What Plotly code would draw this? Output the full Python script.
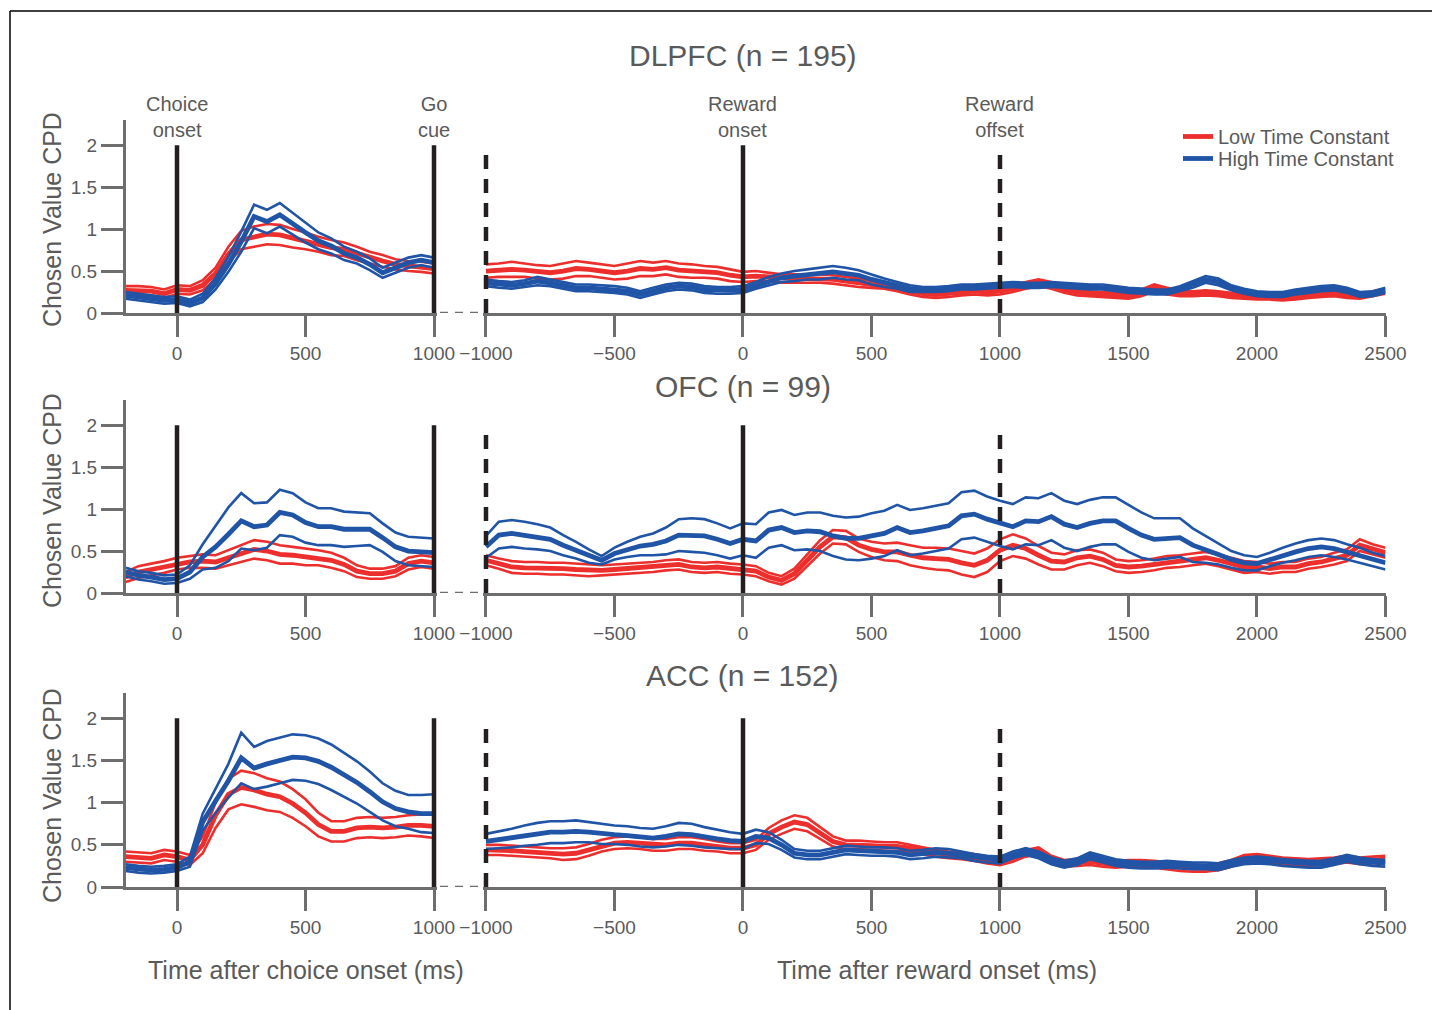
import plotly.graph_objects as go

# ---------------- data ----------------
t_choice = list(range(-200, 1001, 50))     # ms after choice onset
t_reward = list(range(-1000, 2501, 50))    # ms after reward onset

regions = ["DLPFC", "OFC", "ACC"]
region_n = [195, 99, 152]
series_names = ["Low Time Constant", "High Time Constant"]

choice_events = [0, 1000]
choice_event_labels = ["Choice<br>onset", "Go<br>cue"]
reward_events_solid = [0]
reward_events_dashed = [-1000, 1000]
reward_event_labels = ["Reward<br>onset", "Reward<br>offset"]
reward_label_times = [0, 1000]

y_ticks = [0, 0.5, 1, 1.5, 2]
y_tick_text = ["0", "0.5", "1", "1.5", "2"]
choice_ticks = [0, 500, 1000]
choice_tick_text = ["0", "500", "1000"]
reward_ticks = [-1000, -500, 0, 500, 1000, 1500, 2000, 2500]
reward_tick_text = ["\u22121000", "\u2212500", "0", "500", "1000", "1500", "2000", "2500"]

# DLPFC, choice aligned
dlpfc_choice_low_mean = [0.27,0.27,0.26,0.23,0.28,0.27,0.33,0.47,0.70,0.87,0.91,0.94,0.93,0.89,0.86,0.82,0.78,0.76,0.71,0.66,0.62,0.58,0.56,0.55,0.53]
dlpfc_choice_low_sem = [0.05,0.05,0.05,0.05,0.05,0.05,0.06,0.07,0.09,0.11,0.12,0.12,0.12,0.11,0.10,0.09,0.09,0.08,0.08,0.07,0.07,0.06,0.06,0.06,0.06]
dlpfc_choice_high_mean = [0.21,0.19,0.17,0.15,0.16,0.12,0.18,0.35,0.58,0.85,1.15,1.09,1.17,1.06,0.96,0.86,0.80,0.71,0.66,0.58,0.48,0.54,0.60,0.63,0.60]
dlpfc_choice_high_sem = [0.04,0.04,0.04,0.04,0.04,0.04,0.05,0.07,0.09,0.12,0.14,0.14,0.14,0.13,0.12,0.10,0.09,0.08,0.07,0.07,0.06,0.06,0.06,0.06,0.06]

# DLPFC, reward aligned
dlpfc_reward_low_mean = [0.50,0.51,0.52,0.51,0.49,0.48,0.50,0.53,0.52,0.50,0.48,0.50,0.53,0.52,0.54,0.51,0.50,0.49,0.48,0.45,0.43,
                         0.44,0.43,0.41,0.41,0.41,0.41,0.40,0.38,0.36,0.34,0.33,0.30,0.26,0.23,0.22,0.23,0.25,0.26,0.25,0.26,
                         0.29,0.33,0.36,0.33,0.28,0.25,0.23,0.22,0.21,0.20,0.24,0.30,0.26,0.23,0.23,0.24,0.23,0.21,0.20,0.19,
                         0.19,0.18,0.19,0.21,0.22,0.23,0.21,0.20,0.23,0.26]
dlpfc_reward_low_sem = [0.08,0.08,0.09,0.08,0.08,0.08,0.09,0.09,0.08,0.08,0.08,0.09,0.09,0.08,0.08,0.08,0.08,0.07,0.07,0.07,0.06,
                        0.06,0.05,0.05,0.05,0.05,0.05,0.05,0.05,0.05,0.04,0.04,0.04,0.04,0.04,0.04,0.04,0.04,0.04,0.04,0.04,
                        0.04,0.04,0.04,0.04,0.04,0.04,0.03,0.03,0.03,0.03,0.04,0.04,0.04,0.03,0.03,0.03,0.03,0.03,0.03,0.03,
                        0.03,0.03,0.03,0.03,0.03,0.03,0.03,0.03,0.03,0.03]
dlpfc_reward_high_mean = [0.36,0.34,0.33,0.35,0.38,0.36,0.33,0.30,0.30,0.29,0.28,0.26,0.22,0.26,0.30,0.32,0.31,0.28,0.27,0.27,0.28,
                          0.33,0.38,0.42,0.44,0.46,0.47,0.49,0.47,0.45,0.40,0.36,0.33,0.29,0.28,0.28,0.29,0.31,0.31,0.32,0.33,
                          0.34,0.33,0.33,0.34,0.33,0.32,0.31,0.31,0.29,0.27,0.26,0.25,0.25,0.29,0.34,0.40,0.37,0.30,0.26,0.23,
                          0.22,0.22,0.25,0.27,0.29,0.30,0.27,0.22,0.23,0.27]
dlpfc_reward_high_sem = [0.04,0.04,0.04,0.04,0.05,0.04,0.04,0.04,0.04,0.04,0.04,0.04,0.04,0.04,0.04,0.04,0.04,0.04,0.04,0.04,0.04,
                         0.04,0.05,0.05,0.06,0.06,0.07,0.07,0.07,0.06,0.06,0.05,0.04,0.04,0.03,0.03,0.03,0.03,0.03,0.03,0.03,
                         0.03,0.03,0.03,0.03,0.03,0.03,0.03,0.03,0.03,0.03,0.03,0.03,0.03,0.03,0.04,0.04,0.04,0.03,0.03,0.03,
                         0.03,0.03,0.03,0.03,0.03,0.03,0.03,0.03,0.03,0.03]

# OFC, choice aligned
ofc_choice_low_mean = [0.19,0.25,0.28,0.31,0.35,0.37,0.38,0.37,0.42,0.47,0.52,0.50,0.46,0.45,0.43,0.42,0.39,0.34,0.26,0.23,0.23,0.26,0.35,0.38,0.36]
ofc_choice_low_sem = [0.06,0.07,0.07,0.07,0.07,0.07,0.08,0.08,0.09,0.10,0.11,0.11,0.11,0.10,0.10,0.09,0.09,0.08,0.07,0.06,0.06,0.06,0.07,0.07,0.07]
ofc_choice_high_mean = [0.25,0.21,0.19,0.16,0.17,0.25,0.43,0.55,0.70,0.86,0.79,0.81,0.96,0.93,0.84,0.79,0.79,0.76,0.76,0.76,0.66,0.55,0.50,0.49,0.48]
ofc_choice_high_sem = [0.05,0.05,0.05,0.05,0.05,0.08,0.15,0.25,0.32,0.33,0.28,0.27,0.27,0.26,0.24,0.22,0.22,0.21,0.20,0.19,0.17,0.17,0.17,0.17,0.17]

# OFC, reward aligned
ofc_reward_low_mean = [0.39,0.35,0.31,0.30,0.30,0.29,0.29,0.28,0.27,0.27,0.28,0.29,0.30,0.31,0.33,0.34,0.31,0.30,0.31,0.29,0.28,
                       0.26,0.19,0.15,0.23,0.39,0.55,0.67,0.66,0.57,0.52,0.49,0.49,0.45,0.42,0.41,0.40,0.36,0.33,0.39,0.51,
                       0.57,0.53,0.45,0.38,0.37,0.42,0.44,0.40,0.33,0.31,0.32,0.34,0.37,0.38,0.40,0.42,0.39,0.35,0.31,0.31,
                       0.29,0.31,0.31,0.35,0.37,0.41,0.45,0.57,0.52,0.48]
ofc_reward_low_sem = [0.06,0.06,0.07,0.07,0.07,0.07,0.07,0.07,0.07,0.06,0.06,0.06,0.06,0.06,0.06,0.06,0.06,0.06,0.06,0.06,0.06,
                      0.06,0.05,0.05,0.06,0.07,0.08,0.08,0.08,0.08,0.09,0.10,0.11,0.12,0.12,0.13,0.13,0.14,0.14,0.14,0.13,
                      0.13,0.12,0.11,0.10,0.09,0.09,0.08,0.08,0.07,0.07,0.07,0.07,0.07,0.07,0.07,0.07,0.07,0.07,0.07,0.06,
                      0.06,0.06,0.06,0.06,0.06,0.07,0.07,0.07,0.06,0.06]
ofc_reward_high_mean = [0.55,0.69,0.71,0.69,0.67,0.64,0.57,0.51,0.44,0.39,0.47,0.52,0.56,0.58,0.62,0.69,0.69,0.68,0.64,0.59,0.64,
                        0.62,0.75,0.78,0.72,0.74,0.73,0.68,0.65,0.65,0.68,0.71,0.78,0.72,0.74,0.77,0.80,0.92,0.94,0.88,0.83,
                        0.79,0.86,0.85,0.91,0.82,0.78,0.83,0.86,0.86,0.77,0.69,0.64,0.65,0.66,0.57,0.52,0.46,0.40,0.36,0.35,
                        0.40,0.45,0.49,0.53,0.55,0.53,0.49,0.45,0.40,0.36]
ofc_reward_high_sem = [0.13,0.16,0.16,0.16,0.15,0.14,0.12,0.10,0.08,0.05,0.07,0.09,0.11,0.13,0.16,0.19,0.20,0.20,0.19,0.18,0.19,
                       0.20,0.21,0.21,0.21,0.22,0.23,0.24,0.25,0.26,0.27,0.27,0.27,0.27,0.27,0.27,0.27,0.28,0.28,0.27,0.27,
                       0.27,0.28,0.28,0.28,0.28,0.28,0.28,0.28,0.28,0.28,0.27,0.25,0.24,0.23,0.20,0.16,0.12,0.10,0.09,0.08,
                       0.08,0.09,0.10,0.10,0.10,0.10,0.09,0.09,0.08,0.08]

# ACC, choice aligned
acc_choice_low_mean = [0.36,0.35,0.34,0.38,0.36,0.32,0.50,0.85,1.10,1.18,1.15,1.10,1.07,0.99,0.88,0.74,0.66,0.66,0.70,0.71,0.70,0.71,0.73,0.73,0.72]
acc_choice_low_sem = [0.06,0.06,0.06,0.06,0.06,0.06,0.10,0.15,0.18,0.20,0.20,0.19,0.18,0.17,0.16,0.14,0.12,0.12,0.12,0.12,0.12,0.12,0.12,0.13,0.14]
acc_choice_high_mean = [0.23,0.21,0.20,0.21,0.23,0.30,0.77,1.02,1.26,1.53,1.41,1.46,1.50,1.54,1.53,1.49,1.42,1.33,1.24,1.13,1.01,0.93,0.89,0.87,0.87]
acc_choice_high_sem = [0.04,0.04,0.04,0.04,0.04,0.06,0.10,0.14,0.20,0.30,0.25,0.27,0.27,0.27,0.27,0.27,0.27,0.26,0.25,0.24,0.22,0.21,0.20,0.22,0.23]

# ACC, reward aligned
acc_reward_low_mean = [0.44,0.44,0.43,0.42,0.41,0.40,0.39,0.40,0.44,0.49,0.52,0.53,0.52,0.50,0.50,0.52,0.52,0.50,0.48,0.46,0.46,
                       0.50,0.63,0.71,0.77,0.74,0.64,0.54,0.50,0.50,0.49,0.48,0.48,0.46,0.43,0.40,0.38,0.37,0.35,0.32,0.30,
                       0.34,0.40,0.43,0.33,0.28,0.29,0.30,0.28,0.27,0.28,0.28,0.27,0.25,0.23,0.22,0.22,0.24,0.28,0.34,0.35,
                       0.33,0.31,0.30,0.29,0.30,0.31,0.33,0.31,0.32,0.33]
acc_reward_low_sem = [0.06,0.06,0.06,0.06,0.06,0.06,0.07,0.07,0.07,0.07,0.07,0.07,0.07,0.07,0.07,0.07,0.07,0.07,0.06,0.06,0.06,
                      0.06,0.07,0.08,0.08,0.08,0.07,0.06,0.05,0.05,0.05,0.05,0.05,0.04,0.04,0.04,0.04,0.04,0.04,0.04,0.04,
                      0.04,0.04,0.04,0.04,0.04,0.04,0.04,0.04,0.04,0.04,0.04,0.04,0.04,0.04,0.04,0.04,0.04,0.04,0.04,0.04,
                      0.04,0.04,0.04,0.04,0.04,0.04,0.04,0.04,0.04,0.04]
acc_reward_high_mean = [0.54,0.56,0.58,0.61,0.63,0.65,0.65,0.66,0.65,0.63,0.62,0.61,0.59,0.58,0.60,0.63,0.62,0.59,0.57,0.55,0.54,
                        0.60,0.58,0.50,0.40,0.38,0.38,0.41,0.44,0.43,0.42,0.42,0.41,0.38,0.39,0.41,0.40,0.38,0.35,0.33,0.32,
                        0.38,0.42,0.38,0.31,0.27,0.30,0.37,0.33,0.29,0.27,0.26,0.26,0.27,0.26,0.25,0.25,0.24,0.28,0.31,0.32,
                        0.31,0.29,0.28,0.27,0.27,0.30,0.34,0.31,0.29,0.28]
acc_reward_high_sem = [0.09,0.10,0.11,0.12,0.13,0.13,0.13,0.13,0.12,0.12,0.11,0.11,0.11,0.11,0.12,0.13,0.13,0.12,0.11,0.10,0.09,
                       0.08,0.07,0.06,0.05,0.05,0.05,0.05,0.05,0.05,0.05,0.05,0.05,0.05,0.05,0.05,0.05,0.04,0.04,0.04,0.04,
                       0.04,0.04,0.04,0.04,0.04,0.04,0.04,0.04,0.04,0.04,0.04,0.04,0.04,0.04,0.04,0.04,0.04,0.04,0.04,0.04,
                       0.04,0.04,0.04,0.04,0.04,0.04,0.04,0.04,0.04,0.04]

panels = [
    [(dlpfc_choice_low_mean, dlpfc_choice_low_sem, dlpfc_choice_high_mean, dlpfc_choice_high_sem),
     (dlpfc_reward_low_mean, dlpfc_reward_low_sem, dlpfc_reward_high_mean, dlpfc_reward_high_sem)],
    [(ofc_choice_low_mean, ofc_choice_low_sem, ofc_choice_high_mean, ofc_choice_high_sem),
     (ofc_reward_low_mean, ofc_reward_low_sem, ofc_reward_high_mean, ofc_reward_high_sem)],
    [(acc_choice_low_mean, acc_choice_low_sem, acc_choice_high_mean, acc_choice_high_sem),
     (acc_reward_low_mean, acc_reward_low_sem, acc_reward_high_mean, acc_reward_high_sem)],
]

# ---------------- layout helpers ----------------
W, H = 1432, 1010
def px(x):
    return x / W
def py(y):
    return 1 - y / H

RED = "#EC2F2D"
BLUE = "#1F54A6"
GRAY = "#6E6E6E"
TXT = "#5A5A5A"
BLACK = "#231F20"
FONT = "Liberation Sans, Arial, sans-serif"

PX_PER_MS = 0.257
row_px = [(120, 313), (400, 593), (693, 887)]   # (top, bottom) pixel rows of plot areas
# ranges padded slightly so event lines at the panel edges are not clipped
col_range = [[-200, 1012], [-1012, 2500]]
col_px = [(177 + col_range[0][0] * PX_PER_MS, 177 + col_range[0][1] * PX_PER_MS),
          (743 + col_range[1][0] * PX_PER_MS, 743 + col_range[1][1] * PX_PER_MS)]
col_ticks = [choice_ticks, reward_ticks]
col_tick_text = [choice_tick_text, reward_tick_text]
col_t = [t_choice, t_reward]

fig = go.Figure()
shapes = []
annotations = []
layout_axes = {}

for r in range(3):
    for c in range(2):
        k = r * 2 + c + 1
        xa = "x" if k == 1 else f"x{k}"
        ya = "y" if k == 1 else f"y{k}"
        low_m, low_s, high_m, high_s = panels[r][c]
        t = col_t[c]
        assert len(low_m) == len(t) == len(low_s) == len(high_m) == len(high_s)
        for (m, s, color, name, leg) in [(low_m, low_s, RED, series_names[0], "legend"),
                                         (high_m, high_s, BLUE, series_names[1], "legend2")]:
            up = [a + b for a, b in zip(m, s)]
            lo = [a - b for a, b in zip(m, s)]
            for band in (up, lo):
                fig.add_trace(go.Scatter(x=t, y=band, mode="lines", xaxis=xa, yaxis=ya,
                                         line=dict(color=color, width=2.6),
                                         showlegend=False, hoverinfo="skip"))
            fig.add_trace(go.Scatter(x=t, y=m, mode="lines", xaxis=xa, yaxis=ya,
                                     line=dict(color=color, width=4.8),
                                     name=name, legendgroup=name, legend=leg,
                                     showlegend=(r == 0 and c == 1)))

        top, bot = row_px[r]
        left, right = col_px[c]
        xkey = "xaxis" if k == 1 else f"xaxis{k}"
        ykey = "yaxis" if k == 1 else f"yaxis{k}"
        layout_axes[xkey] = dict(
            domain=[px(left), px(right)], range=col_range[c], anchor=ya, automargin=False,
            showline=True, linecolor=GRAY, linewidth=2.5, mirror=False,
            ticks="outside", ticklen=21, tickwidth=2.5, tickcolor=GRAY,
            tickvals=col_ticks[c], ticktext=col_tick_text[c],
            tickfont=dict(size=19, color=TXT, family=FONT),
            showgrid=False, zeroline=False, fixedrange=True)
        layout_axes[ykey] = dict(
            domain=[py(bot), py(top)], range=[0, 2.3], anchor=xa, automargin=False,
            showline=(c == 0), linecolor=GRAY, linewidth=2.5,
            ticks="outside" if c == 0 else "", ticklen=22, tickwidth=2.5, tickcolor=GRAY,
            tickvals=y_ticks, ticktext=y_tick_text, showticklabels=(c == 0),
            tickfont=dict(size=19, color=TXT, family=FONT),
            showgrid=False, zeroline=False, fixedrange=True)

        # event lines
        if c == 0:
            for ev in choice_events:
                shapes.append(dict(type="line", xref=xa, yref=ya, x0=ev, x1=ev, y0=0, y1=2.0,
                                   line=dict(color=BLACK, width=4.5)))
            # dashed link between the two panels' axes
            shapes.append(dict(type="line", xref="paper", yref=ya, x0=px(440), x1=px(483),
                               y0=0, y1=0, line=dict(color=GRAY, width=2.5, dash="8px,7px")))
        else:
            for ev in reward_events_solid:
                shapes.append(dict(type="line", xref=xa, yref=ya, x0=ev, x1=ev, y0=0, y1=2.0,
                                   line=dict(color=BLACK, width=4.5)))
            for ev in reward_events_dashed:
                shapes.append(dict(type="line", xref=xa, yref=ya, x0=ev, x1=ev, y0=0, y1=1.97,
                                   line=dict(color=BLACK, width=4.5, dash="14px,10px")))

    # region title
    title_y = [55, 386, 675][r]
    annotations.append(dict(text=f"{regions[r]} (n = {region_n[r]})", xref="paper", yref="paper",
                            x=px(743), y=py(title_y), showarrow=False,
                            font=dict(size=30, color=TXT, family=FONT), xanchor="center", yanchor="middle"))
    # y-axis title
    ytitle_y = [220, 501, 796][r]
    annotations.append(dict(text="Chosen Value CPD", xref="paper", yref="paper",
                            x=px(52), y=py(ytitle_y), showarrow=False, textangle=-90,
                            font=dict(size=25, color=TXT, family=FONT), xanchor="center", yanchor="middle"))

# event labels (top row)
for ev, lab in zip(choice_events, choice_event_labels):
    annotations.append(dict(text=lab, xref="x", yref="paper", x=ev, y=py(117), showarrow=False,
                            font=dict(size=20, color=TXT, family=FONT), xanchor="center", yanchor="middle"))
for ev, lab in zip(reward_label_times, reward_event_labels):
    annotations.append(dict(text=lab, xref="x2", yref="paper", x=ev, y=py(117), showarrow=False,
                            font=dict(size=20, color=TXT, family=FONT), xanchor="center", yanchor="middle"))

# x-axis titles
annotations.append(dict(text="Time after choice onset (ms)", xref="paper", yref="paper",
                        x=px(306), y=py(970), showarrow=False,
                        font=dict(size=25, color=TXT, family=FONT), xanchor="center", yanchor="middle"))
annotations.append(dict(text="Time after reward onset (ms)", xref="paper", yref="paper",
                        x=px(937), y=py(970), showarrow=False,
                        font=dict(size=25, color=TXT, family=FONT), xanchor="center", yanchor="middle"))

# figure frame (top and left edges)
shapes.append(dict(type="line", xref="paper", yref="paper", x0=px(10), x1=1, y0=py(11), y1=py(11),
                   line=dict(color="black", width=1.5)))
shapes.append(dict(type="line", xref="paper", yref="paper", x0=px(10), x1=px(10), y0=py(11), y1=0,
                   line=dict(color="black", width=1.5)))

legend_style = dict(xanchor="left", yanchor="top", font=dict(size=20, color=TXT, family=FONT),
                    bgcolor="rgba(0,0,0,0)", itemwidth=30, borderwidth=0)

fig.update_layout(
    template="none",
    width=W, height=H, margin=dict(l=0, r=0, t=0, b=0, autoexpand=False), autosize=False,
    paper_bgcolor="white", plot_bgcolor="white",
    font=dict(family=FONT, color=TXT),
    shapes=shapes, annotations=annotations,
    legend=dict(x=px(1178), y=py(117), **legend_style),
    legend2=dict(x=px(1178), y=py(139), **legend_style),
    showlegend=True,
    **layout_axes,
)

fig.write_html("out.html", config={"displayModeBar": False, "responsive": False},
               post_script="document.body.style.margin='0px';")
